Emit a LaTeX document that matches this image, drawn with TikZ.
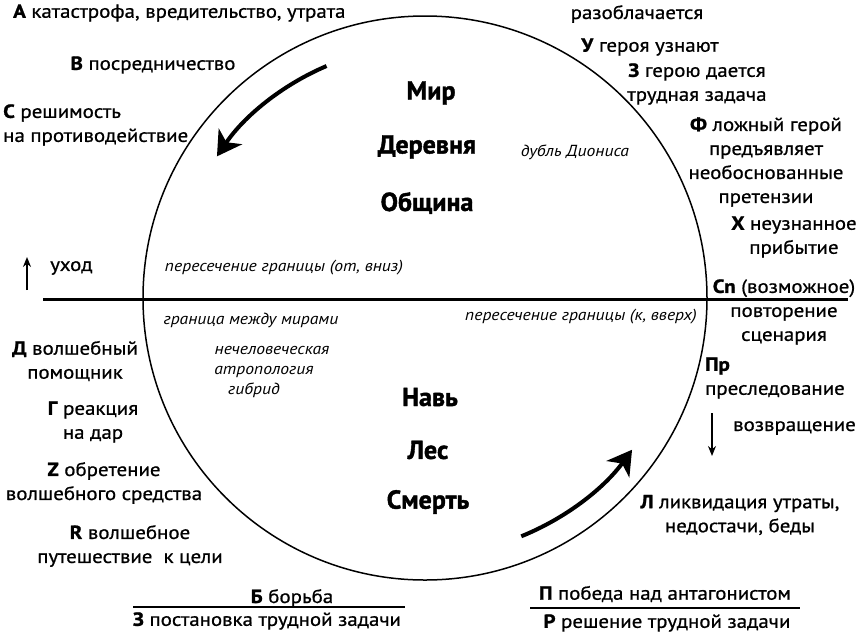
\documentclass[tikz,border=0pt]{standalone}
\usepackage{fontspec}
\setmainfont{PT Sans}[FakeStretch=1.1, UprightFeatures={FakeBold=0.8}, BoldFeatures={FakeBold=1.2}]
\newfontfamily\realmfont{PT Sans}[BoldFeatures={FakeBold=1.5}]
\usetikzlibrary{arrows.meta,calc}
\newcommand\fn[1]{\textbf{#1}}
\begin{document}
\begin{tikzpicture}[x=1pt,y=-1pt,
  lbl/.style={inner sep=0pt, font=\fontsize{19}{24}\selectfont, align=center},
  lbll/.style={lbl, align=left},
  note/.style={inner sep=0pt, font=\fontsize{16}{22}\selectfont\itshape, align=center},
  realm/.style={inner sep=0pt, font=\realmfont\fontsize{26}{30}\selectfont\bfseries},
  bigarrow/.style={line width=4pt, -{Stealth[length=24pt,width=28pt,inset=7pt]}},
  smallarrow/.style={line width=1.4pt, -{Stealth[length=10pt,width=8pt]}},
  rule/.style={line width=1.3pt}]
\useasboundingbox (0,0) rectangle (865,633);

% the world circle and the border between worlds
\coordinate (c) at (425,298);
\draw[line width=1.5pt] (c) circle[radius=282];
\coordinate (bl) at (43,299);
\coordinate (br) at (848,299);
\draw[line width=3pt] (bl) -- (br);

% direction of the journey
\coordinate (ta) at ($(c)+(-113:252)$);
\draw[bigarrow] (ta) arc[start angle=-113, end angle=-146, radius=250];
\coordinate (ba) at ($(c)+(68:257)$);
\draw[bigarrow] (ba) arc[start angle=68, end angle=36, radius=255];

% realms
\node[realm] (mir) at (431,93) {Мир};
\node[realm] (derevnya) at (427,147) {Деревня};
\node[realm] (obshchina) at (427,203) {Община};
\node[realm] (nav) at (430,397) {Навь};
\node[realm] (les) at (428,450) {Лес};
\node[realm] (smert) at (428,502) {Смерть};

% italic notes inside the circle
\node[note] (crossdown) at (284,268) {пересечение границы (от, вниз)};
\node[note] (border) at (251,320) {граница между мирами};
\node[note] (nonhuman) at (272,350) {нечеловеческая};
\node[note] (anthro) at (264,372) {атропология};
\node[note] (hybrid) at (254,390) {гибрид};
\node[note] (crossup) at (581,317) {пересечение границы (к, вверх)};
\node[note] (dionysus) at (575,152) {дубль Диониса};

% functions, upper left
\node[lbl, anchor=west] (fA) at (13,13) {\fn{А} катастрофа, вредительство, утрата};
\node[lbl] (fB) at (153,65) {\fn{В} посредничество};
\node[lbll, anchor=west] (fC) at (3,125) {\fn{С} решимость\\на противодействие};
\node[lbl, anchor=west] (away) at (50,268) {уход};
\coordinate (u1) at (27,290);
\coordinate (u2) at (27,257);
\draw[smallarrow] (u1) -- (u2);

% functions, upper right
\node[lbl] (fexp) at (637,14) {разоблачается};
\node[lbl] (fU) at (650,47) {\fn{У} героя узнают};
\node[lbl] (fZ) at (697,84) {\fn{З} герою дается\\трудная задача};
\node[lbl] (fF) at (766,162) {\fn{Ф} ложный герой\\предъявляет\\необоснованные\\претензии};
\node[lbl] (fX) at (794,237) {\fn{Х} неузнанное\\прибытие};
\node[lbl] (fCn) at (784,312) {\fn{Cn} (возможное)\\повторение\\сценария};

% functions, lower right
\node[lbll, anchor=west] (fPr) at (705,378) {\fn{Пр}\\преследование};
\node[lbl, anchor=west] (ret) at (733,428) {возвращение};
\coordinate (d1) at (712,413);
\coordinate (d2) at (712,456);
\draw[smallarrow] (d1) -- (d2);
\node[lbl] (fL) at (740,515) {\fn{Л} ликвидация утраты,\\недостачи, беды};
\node[lbl] (fP) at (665,594) {\fn{П} победа над антагонистом};
\node[lbl] (fR) at (667,623) {\fn{Р} решение трудной задачи};
\coordinate (r1) at (530,608);
\coordinate (r2) at (800,608);
\draw[rule] (r1) -- (r2);

% functions, lower left
\node[lbl] (fD) at (75,361) {\fn{Д} волшебный\\помощник};
\node[lbl] (fG) at (93,422) {\fn{Г} реакция\\на дар};
\node[lbl] (fZz) at (104,483) {\fn{Z} обретение\\волшебного средства};
\node[lbl] (fRr) at (130,546) {\fn{R} волшебное\\путешествие\ \ к цели};
\node[lbl] (fBb) at (292,598) {\fn{Б} борьба};
\node[lbl] (fZt) at (267,621) {\fn{З} постановка трудной задачи};
\coordinate (l1) at (133,607);
\coordinate (l2) at (405,607);
\draw[rule] (l1) -- (l2);
\end{tikzpicture}
\end{document}
